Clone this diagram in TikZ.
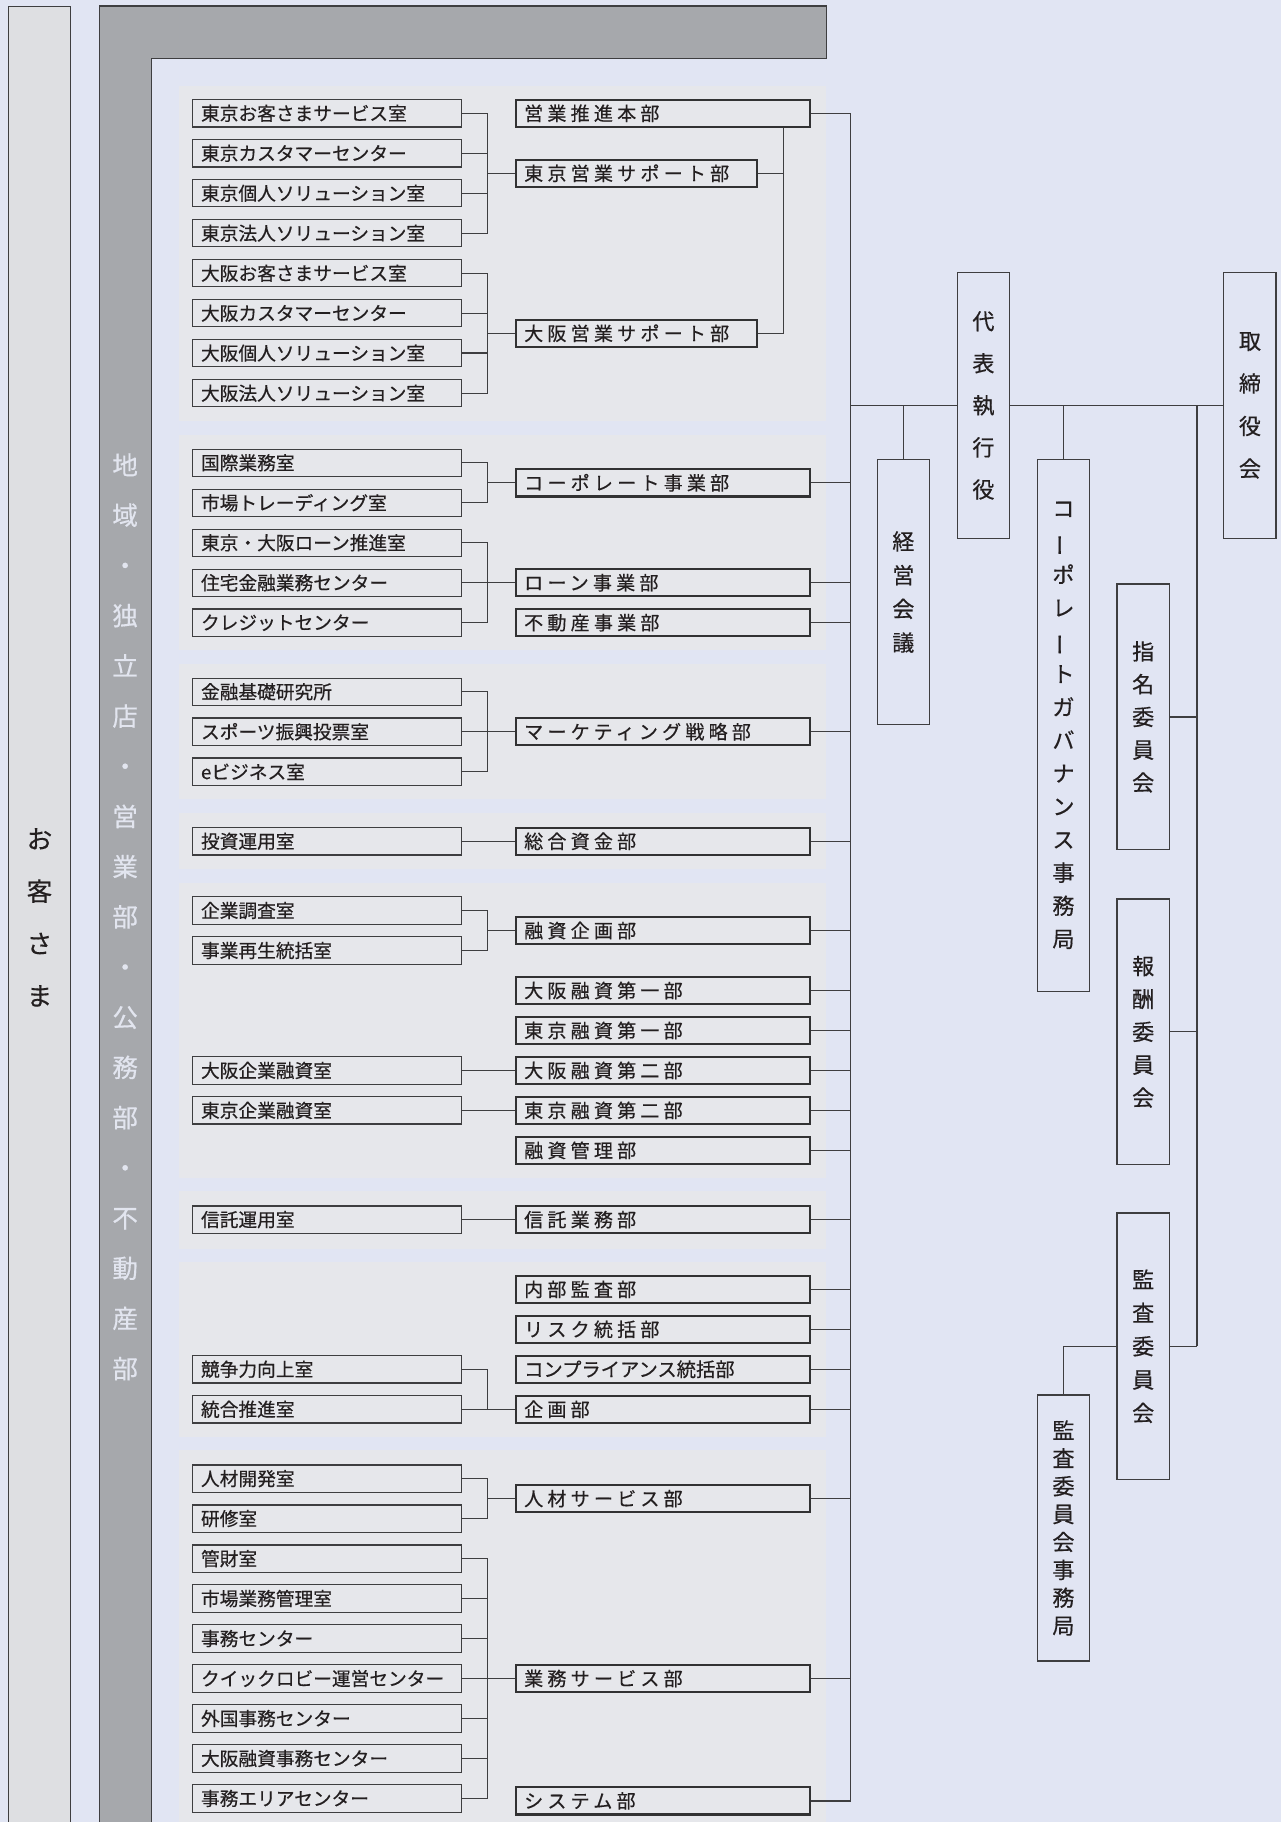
\documentclass[tikz,border=0pt]{standalone}
\usepackage{fontspec}
\usepackage{graphicx}
\setmainfont{Noto Sans CJK JP}
\newfontfamily\jp[FakeBold=0.45]{Noto Sans CJK JP}
\newfontfamily\jpsp[LetterSpace=22,FakeBold=0.45]{Noto Sans CJK JP}
\definecolor{bglav}{RGB}{225,229,243}
\definecolor{panelgray}{RGB}{230,231,235}
\definecolor{custgray}{RGB}{222,223,226}
\definecolor{lgray}{RGB}{166,168,172}
\definecolor{ltext}{RGB}{226,229,239}
\definecolor{linegray}{RGB}{62,62,64}
\definecolor{inkgray}{RGB}{35,31,32}
\newcommand{\tatebou}{\rotatebox[origin=c]{90}{ー}}
\tikzset{
  conn/.style={draw=linegray, line width=0.55pt},
  panel/.style={fill=panelgray},
  roombox/.style={draw=linegray, line width=0.5pt, fill=panelgray, anchor=west,
    minimum height=11.75pt, inner xsep=3.5pt, inner ysep=0pt, text width=108.5pt,
    align=left, text=inkgray, font=\jp\fontsize{8.05pt}{9pt}\selectfont},
  deptbox/.style={draw=linegray!80!black, line width=0.9pt, fill=panelgray, anchor=west,
    minimum height=11.75pt, inner xsep=3.5pt, inner ysep=0pt, text width=119.5pt,
    align=left, text=inkgray, font=\jpsp\fontsize{8.2pt}{9pt}\selectfont},
  supbox/.style={deptbox, text width=96.5pt},
  tatebox/.style={draw=linegray, line width=0.55pt, fill=bglav, minimum width=22.5pt,
    inner sep=0pt, align=center, text=inkgray, font=\jp\fontsize{9.5pt}{#1}\selectfont}
}
\begin{document}
\begin{tikzpicture}[x=0.5pt, y=-0.5pt]
  \useasboundingbox (0,0) rectangle (1102,1568);
  \fill[bglav] (0,0) rectangle (1102,1568);
  % customers bar
  \fill[custgray, draw=linegray, line width=0.5pt] (7,5.5) rectangle (61,1600);
  \node[text=inkgray, align=center, font=\jp\fontsize{11pt}{22.5pt}\selectfont] (kyaku) at (34,789.5) {お\\客\\さ\\ま};
  % branch frame
  \fill[lgray, draw=linegray, line width=0.5pt] (85.3,5.2) -- (711,5.2) -- (711,50.2) -- (130.1,50.2) -- (130.1,1600) -- (85.3,1600) -- cycle;
  \node[text=ltext, align=center, font=\jp\fontsize{11pt}{21.6pt}\selectfont] (shiten) at (107.7,789)
    {地\\域\\・\\独\\立\\店\\・\\営\\業\\部\\・\\公\\務\\部\\・\\不\\動\\産\\部};
  % panels
  \fill[panel] (154,74) rectangle (711,362.2);
  \fill[panel] (154,374) rectangle (711,559);
  \fill[panel] (154,571) rectangle (711,688);
  \fill[panel] (154,700) rectangle (711,748);
  \fill[panel] (154,760) rectangle (711,1013.7);
  \fill[panel] (154,1025.2) rectangle (711,1074.5);
  \fill[panel] (154,1086.4) rectangle (711,1237);
  \fill[panel] (154,1248) rectangle (711,1600);
  \coordinate (bar) at (419.8,0);
  \coordinate (sbar) at (674.2,0);
  \coordinate (trunk) at (732,0);
  \coordinate (cbar) at (1030,0);

  % Panel 1 — sales
  \node[roombox] (tk1) at (165.5,97.5) {東京お客さまサービス室};
  \node[roombox] (tk2) at (165.5,131.9) {東京カスタマーセンター};
  \node[roombox] (tk3) at (165.5,166.3) {東京個人ソリューション室};
  \node[roombox] (tk4) at (165.5,200.7) {東京法人ソリューション室};
  \node[roombox] (os1) at (165.5,235.1) {大阪お客さまサービス室};
  \node[roombox] (os2) at (165.5,269.5) {大阪カスタマーセンター};
  \node[roombox] (os3) at (165.5,303.9) {大阪個人ソリューション室};
  \node[roombox] (os4) at (165.5,338.4) {大阪法人ソリューション室};
  \node[deptbox] (eigyo) at (443.2,97.5) {営業推進本部};
  \node[supbox] (tokyoS) at (443.2,149.1) {東京営業サポート部};
  \node[supbox] (osakaS) at (443.2,286.8) {大阪営業サポート部};
  \foreach \s in {tk1,tk2,tk3,tk4} \draw[conn] (\s.east) -| (tokyoS.west -| bar);
  \draw[conn] (tokyoS.west -| bar) -- (tokyoS.west);
  \foreach \s in {os1,os2,os3,os4} \draw[conn] (\s.east) -| (osakaS.west -| bar);
  \draw[conn] (osakaS.west -| bar) -- (osakaS.west);
  \draw[conn] (eigyo.south -| sbar) -- (osakaS.east -| sbar) -- (osakaS.east);
  \draw[conn] (tokyoS.east) -- (tokyoS.east -| sbar);

  % Panel 2 — business
  \node[roombox] (kokusai) at (165.5,398.3) {国際業務室};
  \node[roombox] (ichiba) at (165.5,432.7) {市場トレーディング室};
  \node[roombox] (loanP) at (165.5,467.1) {東京・大阪ローン推進室};
  \node[roombox] (jutaku) at (165.5,501.5) {住宅金融業務センター};
  \node[roombox] (credit) at (165.5,535.9) {クレジットセンター};
  \node[deptbox] (corp) at (443.2,415.5) {コーポレート事業部};
  \node[deptbox] (loan) at (443.2,501.5) {ローン事業部};
  \node[deptbox] (fudosan) at (443.2,535.9) {不動産事業部};
  \foreach \s in {kokusai,ichiba} \draw[conn] (\s.east) -| (corp.west -| bar);
  \draw[conn] (corp.west -| bar) -- (corp.west);
  \foreach \s in {loanP,jutaku,credit} \draw[conn] (\s.east) -| (loan.west -| bar);
  \draw[conn] (loan.west -| bar) -- (loan.west);

  % Panel 3 — marketing
  \node[roombox] (kiso) at (165.5,595.3) {金融基礎研究所};
  \node[roombox] (sports) at (165.5,629.7) {スポーツ振興投票室};
  \node[roombox] (ebiz) at (165.5,664.1) {eビジネス室};
  \node[deptbox] (mkt) at (443.2,629.7) {マーケティング戦略部};
  \foreach \s in {kiso,sports,ebiz} \draw[conn] (\s.east) -| (mkt.west -| bar);
  \draw[conn] (mkt.west -| bar) -- (mkt.west);

  % Panel 4 — treasury
  \node[roombox] (toshi) at (165.5,724) {投資運用室};
  \node[deptbox] (sogo) at (443.2,724) {総合資金部};
  \draw[conn] (toshi) -- (sogo);

  % Panel 5 — lending
  \node[roombox] (chosa) at (165.5,783.6) {企業調査室};
  \node[roombox] (saisei) at (165.5,818) {事業再生統括室};
  \node[deptbox] (yKikaku) at (443.2,800.8) {融資企画部};
  \node[deptbox] (osaka1) at (443.2,852.4) {大阪融資第一部};
  \node[deptbox] (tokyo1) at (443.2,886.8) {東京融資第一部};
  \node[roombox] (osKigyo) at (165.5,921.2) {大阪企業融資室};
  \node[deptbox] (osaka2) at (443.2,921.2) {大阪融資第二部};
  \node[roombox] (tkKigyo) at (165.5,955.6) {東京企業融資室};
  \node[deptbox] (tokyo2) at (443.2,955.6) {東京融資第二部};
  \node[deptbox] (yKanri) at (443.2,990) {融資管理部};
  \foreach \s in {chosa,saisei} \draw[conn] (\s.east) -| (yKikaku.west -| bar);
  \draw[conn] (yKikaku.west -| bar) -- (yKikaku.west);
  \draw[conn] (osKigyo) -- (osaka2);
  \draw[conn] (tkKigyo) -- (tokyo2);

  % Panel 6 — trust
  \node[roombox] (shinU) at (165.5,1049.6) {信託運用室};
  \node[deptbox] (shinG) at (443.2,1049.6) {信託業務部};
  \draw[conn] (shinU) -- (shinG);

  % Panel 7 — planning
  \node[deptbox] (naibu) at (443.2,1109.6) {内部監査部};
  \node[deptbox] (risk) at (443.2,1144) {リスク統括部};
  \node[roombox] (kyoso) at (165.5,1178.4) {競争力向上室};
  \node[deptbox, font=\jp\fontsize{8.3pt}{9pt}\selectfont] (compl) at (443.2,1178.4) {コンプライアンス統括部};
  \node[roombox] (togo) at (165.5,1212.8) {統合推進室};
  \node[deptbox] (kikaku) at (443.2,1212.8) {企画部};
  \foreach \s in {kyoso,togo} \draw[conn] (\s.east) -| (kikaku.west -| bar);
  \draw[conn] (kikaku.west -| bar) -- (kikaku.west);

  % Panel 8 — services
  \node[roombox] (jKaihatsu) at (165.5,1272.5) {人材開発室};
  \node[roombox] (kenshu) at (165.5,1306.9) {研修室};
  \node[deptbox] (jinzai) at (443.2,1289.7) {人材サービス部};
  \node[roombox] (kanzai) at (165.5,1341.3) {管財室};
  \node[roombox] (ichibaG) at (165.5,1375.7) {市場業務管理室};
  \node[roombox] (jimuC) at (165.5,1410.1) {事務センター};
  \node[roombox] (quick) at (165.5,1444.5) {クイックロビー運営センター};
  \node[roombox] (gaikoku) at (165.5,1478.9) {外国事務センター};
  \node[roombox] (osJimu) at (165.5,1513.3) {大阪融資事務センター};
  \node[roombox] (area) at (165.5,1547.7) {事務エリアセンター};
  \node[deptbox] (gyomu) at (443.2,1444.5) {業務サービス部};
  \node[deptbox] (system) at (443.2,1549.8) {システム部};
  \foreach \s in {jKaihatsu,kenshu} \draw[conn] (\s.east) -| (jinzai.west -| bar);
  \draw[conn] (jinzai.west -| bar) -- (jinzai.west);
  \foreach \s in {kanzai,ichibaG,jimuC,quick,gaikoku,osJimu,area} \draw[conn] (\s.east) -| (gyomu.west -| bar);
  \draw[conn] (gyomu.west -| bar) -- (gyomu.west);

  % trunk
  \draw[conn] (eigyo.east -| trunk) -- (system.east -| trunk);
  \foreach \m in {eigyo,corp,loan,fudosan,mkt,sogo,yKikaku,osaka1,tokyo1,osaka2,tokyo2,yKanri,shinG,naibu,risk,compl,kikaku,jinzai,gyomu,system}
    \draw[conn] (\m.east) -- (\m.east -| trunk);

  % executives and board
  \node[tatebox=18.1pt, minimum height=114.25pt] (daihyo) at (846.3,348.9) {代\\表\\執\\行\\役};
  \node[tatebox=18.3pt, minimum height=114.25pt] (torishimari) at (1075.7,348.9) {取\\締\\役\\会};
  \node[tatebox=14.5pt, minimum height=114.25pt] (keiei) at (777.4,509.5) {経\\営\\会\\議};
  \node[tatebox=14.25pt, minimum height=229pt] (cg) at (915.2,624.2)
    {コ\\\tatebou\\ポ\\レ\\\tatebou\\ト\\ガ\\バ\\ナ\\ン\\ス\\事\\務\\局};
  \node[tatebox=14.1pt, minimum height=114.3pt] (shimei) at (983.8,617) {指\\名\\委\\員\\会};
  \node[tatebox=14.15pt, minimum height=114.3pt] (hoshu) at (983.8,888) {報\\酬\\委\\員\\会};
  \node[tatebox=14.35pt, minimum height=114.6pt] (kansa) at (983.8,1158.6) {監\\査\\委\\員\\会};
  \node[tatebox=12pt, minimum height=114.4pt] (kansaJ) at (915.2,1315) {監\\査\\委\\員\\会\\事\\務\\局};
  \draw[conn] (daihyo.west -| trunk) -- (daihyo.west);
  \draw[conn] (daihyo.east) -- (torishimari.west);
  \draw[conn] (keiei.north) -- (keiei.north |- daihyo.west);
  \draw[conn] (cg.north) -- (cg.north |- daihyo.east);
  \draw[conn] (daihyo.east -| cbar) -- (kansa.east -| cbar);
  \foreach \c in {shimei,hoshu,kansa} \draw[conn] (\c.east) -- (\c.east -| cbar);
  \draw[conn] (kansa.west) -| (kansaJ.north);
\end{tikzpicture}
\end{document}
